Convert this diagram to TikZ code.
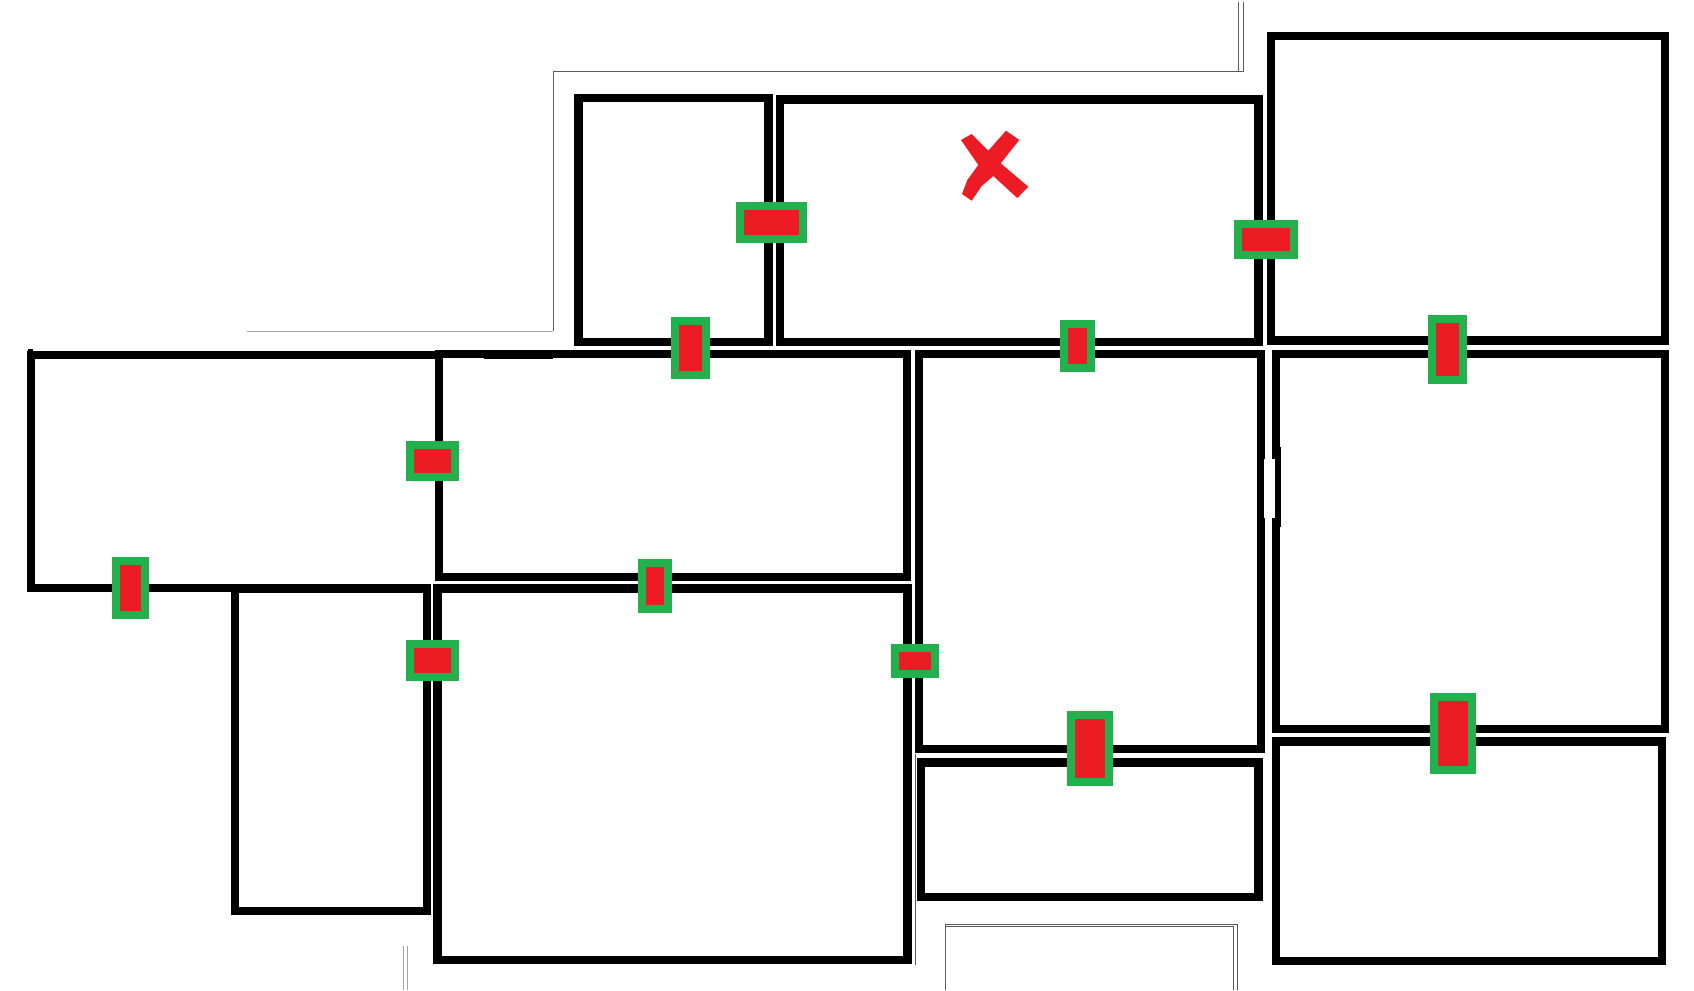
\documentclass[tikz,border=0pt]{standalone}
\definecolor{doorgreen}{RGB}{34,177,76}
\definecolor{doorred}{RGB}{237,28,36}
\tikzset{every picture/.style={line width=0.75pt}}
\tikzset{wall/.style={draw=black,line width=6.3pt}}
\tikzset{door/.style={draw=doorgreen,fill=doorred,line width=6pt}}
\tikzset{darkline/.style={draw={rgb,255:red,90;green,90;blue,90},line width=0.65pt}}
\tikzset{paleline/.style={draw={rgb,255:red,165;green,165;blue,165},line width=0.65pt}}
\begin{document}
\begin{tikzpicture}[x=0.75pt,y=0.75pt,yscale=-1,xscale=1]
	\useasboundingbox (0,0) rectangle (1694,990);

	%Straight Lines: outer thin outline
	\draw [paleline] (247,331.3) -- (553.4,331.3) ;
	\draw [darkline] (553.4,331.3) -- (553.4,71.3) -- (1243,71.3) -- (1243,2.3) ;
	\draw [darkline] (1238.6,2.3) -- (1238.6,71.3) ;
	\draw [paleline] (403.3,946) -- (403.3,990) ;
	\draw [paleline] (407.6,946) -- (407.6,990) ;
	\draw [darkline] (915,754.3) -- (915,965) ;
	\draw [darkline] (945.4,990) -- (945.4,924.3) -- (1237.5,924.3) -- (1237.5,990) ;
	\draw [darkline] (945.4,926.6) -- (1233.7,926.6) -- (1233.7,990) ;

	%Shape: Rectangle, top row
	\draw [wall] (578.5,97.7) rectangle (768.4,341.7) ;
	\draw [wall] (780,99.3) rectangle (1258.4,341.7) ;
	\draw [wall] (1270.8,36) rectangle (1665,340.3) ;
	%Shape: Rectangle, middle and lower rooms
	\draw [wall] (439,354) rectangle (907,577) ;
	\draw [wall] (437.6,588.3) rectangle (907.4,959.7) ;
	\draw [wall] (919,354) rectangle (1261,749) ;
	\draw [wall] (1276,354) rectangle (1665,729) ;
	\draw [wall] (921,762.3) rectangle (1258.4,896.7) ;
	\draw [wall] (1276,741.3) rectangle (1661.7,961) ;
	\draw [wall] (235,588.3) rectangle (427,910.7) ;
	%Straight Lines: left room, open to the room beside it
	\draw [wall] (439,355) -- (31,355) -- (31,588) -- (249,588) ;
	\draw [wall] (484,354.5) -- (553,354.5) ;
	\draw [wall,line width=4pt] (30.5,349) -- (30.5,355) ;

	%Shape: gap in the wall
	\draw [wall] (1277,447) -- (1277,527) ;
	\fill [white] (1264.3,459.3) rectangle (1274.7,518.3) ;

	%Shape: Doors
	\draw [door] (739.5,205.7) rectangle (802.5,239) ;
	\draw [door] (675,320.7) rectangle (705.5,374.7) ;
	\draw [door] (410,444.7) rectangle (455,477.3) ;
	\draw [door] (1237.5,224.3) rectangle (1294.4,254.7) ;
	\draw [door] (1063.7,324.3) rectangle (1091.2,368) ;
	\draw [door] (1431.5,319.2) rectangle (1463,380) ;
	\draw [door] (115.7,561.3) rectangle (145.3,614.7) ;
	\draw [door] (642,563.3) rectangle (668.2,609.3) ;
	\draw [door] (410,643.7) rectangle (455,676.7) ;
	\draw [door] (895,647.7) rectangle (934.5,674) ;
	\draw [door] (1070.5,714.7) rectangle (1108.5,782) ;
	\draw [door] (1434,697.3) rectangle (1472.2,770.3) ;

	%Shape: red cross
	\fill [doorred] (961,140) -- (971.7,134) -- (988.3,150.7) -- (1006,130.7) -- (1019.3,140) -- (1000.7,163.3) -- (1028.3,186.7) -- (1017.3,198) -- (993.3,176) -- (981.7,186) -- (971.7,200.7) -- (962,194) -- (967.3,180) -- (978.3,165) -- cycle ;

\end{tikzpicture}
\end{document}
